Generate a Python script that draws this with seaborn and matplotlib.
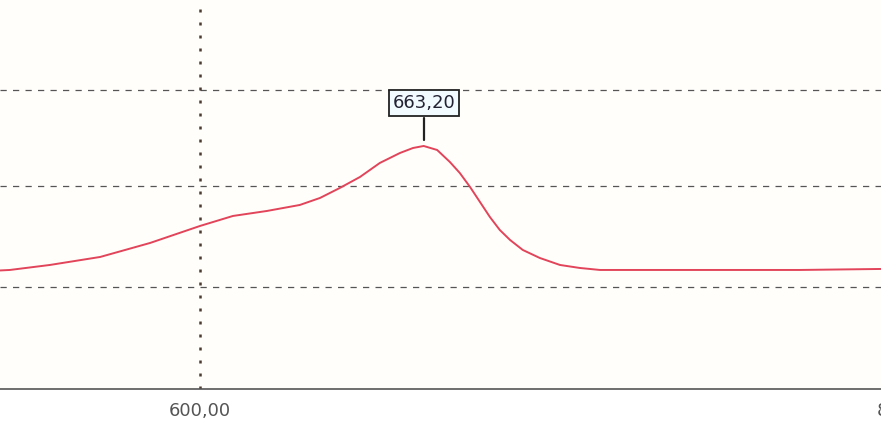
import matplotlib
matplotlib.use("Agg")
import matplotlib.pyplot as plt
import seaborn as sns
import pandas as pd

# spectrum
wavelength = [543.5, 546.3, 557.6, 571.8, 585.9, 600.0, 609.3, 618.9, 628.2, 633.9,
              639.5, 645.2, 650.8, 656.5, 660.2, 663.2, 667.0, 670.6, 673.4, 676.3,
              679.1, 681.9, 684.7, 687.6, 691.2, 696.0, 701.7, 707.3, 713.0, 741.2,
              769.5, 792.4]
absorb = [1.185, 1.19, 1.24, 1.32, 1.46, 1.63, 1.73, 1.78, 1.84, 1.91,
          2.01, 2.12, 2.26, 2.36, 2.41, 2.43, 2.39, 2.27, 2.16, 2.02,
          1.87, 1.72, 1.59, 1.49, 1.39, 1.31, 1.24, 1.21, 1.19, 1.19,
          1.19, 1.20]
x_ticks = [600, 800]
tick_labels = ["600,00", "800,00"]
peak_x = 663.2
peak_label = "663,20"

df = pd.DataFrame({'wl': wavelength, 'A': absorb})

sns.set_style("white")
fig = plt.figure(figsize=(8.81, 4.44), dpi=100)
ax = fig.add_axes([0, 0.124, 1, 0.876])
fig.patch.set_facecolor('white')
ax.set_facecolor('#fffefb')

sns.lineplot(data=df, x='wl', y='A', ax=ax, color='#e2445a', linewidth=1.4)

ax.set_xlim(543.5, 792.4)
ax.set_ylim(0, 3.89)

# grid
for g in [1.02, 2.03, 2.99]:
    ax.axhline(g, color='#555', linestyle=(0, (5, 5)), linewidth=0.9, zorder=0)
ax.axvline(x_ticks[0], color='#4a3a30', linestyle=(0, (1.2, 4)), linewidth=1.8, zorder=0)

for s in ['left', 'top', 'right']:
    ax.spines[s].set_visible(False)
ax.spines['bottom'].set_color('#555')
ax.spines['bottom'].set_linewidth(1.2)

ax.set_xticks([])
ax.set_yticks([])
ax.set_xlabel('')
ax.set_ylabel('')
for xt, lab in zip(x_ticks, tick_labels):
    ax.text(xt, -0.22, lab, ha='center', va='center', fontsize=13, color='#555',
            clip_on=False)

# peak marker
ax.plot([peak_x, peak_x], [2.49, 2.71], color='#222', linewidth=1.6)
ax.text(peak_x, 2.86, peak_label, ha='center', va='center', fontsize=13, color='#223',
        bbox=dict(boxstyle='square,pad=0.2', fc='#f2fbff', ec='#222', lw=1.3))

ax.set_title('')
fig.savefig('out.png', dpi=100)
